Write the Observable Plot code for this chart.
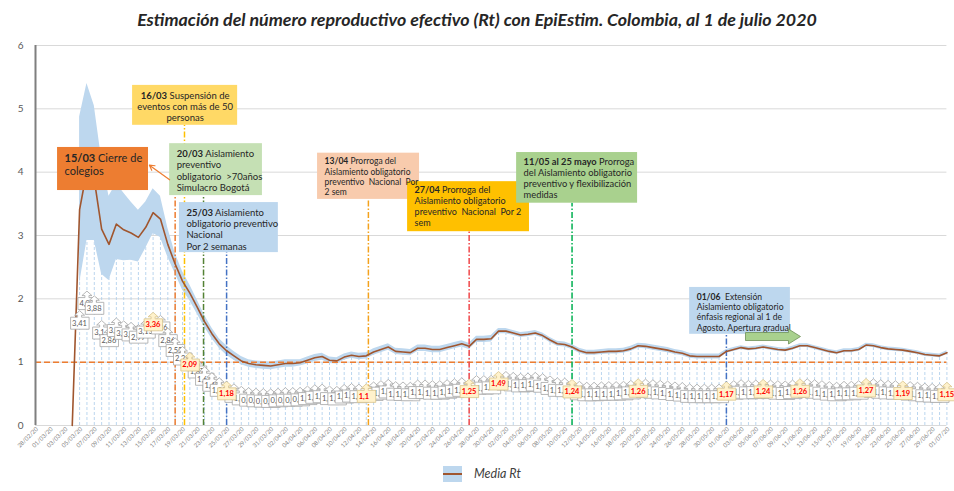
<!DOCTYPE html>
<html><head><meta charset="utf-8">
<script src="https://cdn.jsdelivr.net/npm/d3@7"></script>
<script src="https://cdn.jsdelivr.net/npm/@observablehq/plot@0.6"></script>
<style>
body{margin:0;background:#fff;font-family:Lato,"Noto Sans",sans-serif;}
#wrap{width:954px;height:491px;position:relative;overflow:hidden;background:#fff;}
#title{height:35px;line-height:38px;text-align:center;font-weight:bold;font-style:italic;font-size:17.8px;color:#262626;}
#chart svg{display:block;}
#sw{position:absolute;left:443px;top:466px;width:19px;height:16px;background:#BDD7EE;}
#sw div{position:absolute;left:0;top:7px;width:19px;height:2px;background:#A0562F;}
#lt{position:absolute;left:474px;top:466px;font-style:italic;font-size:12.5px;color:#404040;line-height:16px;}
</style></head>
<body><div id="wrap">
<div id="title">Estimación del número reproductivo efectivo (Rt) con EpiEstim. Colombia, al 1 de julio 2020</div>
<div id="chart"></div>
<div id="sw"><div></div></div><div id="lt">Media Rt</div>
</div>
<script>
// ---------- DATA ----------
const startDate = "2020-03-04"; // first daily value
const rtMean = [
 0,3.41,4.03,3.88,3.10,2.86,3.18,3.09,3.04,2.97,3.13,3.36,3.26,2.86,2.55,2.28,2.09,1.87,1.64,1.45,1.29,1.18,1.10,1.02,0.98,0.96,0.95,0.94,
 0.96,0.98,0.98,0.99,1.03,1.07,1.09,1.03,1.02,1.08,1.11,1.09,1.10,1.16,1.20,1.24,1.17,1.16,1.15,1.22,1.22,1.20,1.20,1.23,1.26,1.29,1.25,1.36,1.36,1.37,
 1.49,1.49,1.46,1.43,1.44,1.46,1.42,1.35,1.29,1.28,1.24,1.18,1.15,1.15,1.16,1.17,1.17,1.18,1.21,1.26,1.25,1.23,1.21,1.19,1.16,1.14,1.10,1.09,1.09,1.09,1.09,
 1.17,1.20,1.23,1.21,1.22,1.24,1.22,1.20,1.19,1.22,1.26,1.26,1.23,1.20,1.17,1.15,1.18,1.18,1.20,1.27,1.26,1.23,1.21,1.20,1.19,1.17,1.15,1.12,1.11,1.10,
 1.15];
const rtLow = [
 null,2.24,2.92,2.92,2.39,2.29,2.62,2.60,2.61,2.58,2.80,3.03,2.97,2.66,2.40,2.14,1.97,1.76,1.55,1.37,1.22,1.11,1.03,0.96,0.92,0.90,0.89,0.88,
 0.90,0.92,0.92,0.94,0.97,1.01,1.03,0.98,0.97,1.03,1.06,1.04,1.05,1.11,1.15,1.19,1.12,1.11,1.10,1.17,1.17,1.15,1.15,1.18,1.21,1.24,1.20,1.31,1.31,1.32,
 1.45,1.45,1.42,1.39,1.40,1.42,1.38,1.31,1.25,1.24,1.20,1.14,1.11,1.11,1.12,1.13,1.13,1.14,1.17,1.22,1.21,1.19,1.17,1.15,1.12,1.10,1.06,1.05,1.05,1.05,1.05,
 1.14,1.17,1.20,1.18,1.19,1.21,1.19,1.17,1.16,1.19,1.23,1.23,1.20,1.17,1.14,1.12,1.15,1.15,1.17,1.24,1.23,1.20,1.18,1.17,1.16,1.14,1.12,1.09,1.08,1.07,
 1.12];
const rtHigh = [
 null,4.87,5.40,5.05,4.20,3.62,3.82,3.67,3.53,3.40,3.53,3.74,3.62,3.12,2.72,2.43,2.22,1.98,1.74,1.54,1.37,1.26,1.17,1.09,1.04,1.02,1.01,1.00,
 1.02,1.04,1.04,1.04,1.08,1.12,1.14,1.08,1.07,1.13,1.16,1.14,1.15,1.21,1.25,1.29,1.22,1.21,1.20,1.27,1.27,1.25,1.25,1.28,1.31,1.34,1.30,1.41,1.41,1.42,
 1.53,1.53,1.50,1.47,1.48,1.50,1.46,1.39,1.33,1.32,1.28,1.22,1.19,1.19,1.20,1.21,1.21,1.22,1.25,1.30,1.29,1.27,1.25,1.23,1.20,1.18,1.14,1.13,1.13,1.13,1.13,
 1.20,1.23,1.26,1.24,1.25,1.27,1.25,1.23,1.22,1.25,1.29,1.29,1.26,1.23,1.20,1.18,1.21,1.21,1.23,1.30,1.29,1.26,1.24,1.23,1.22,1.20,1.18,1.15,1.14,1.13,
 1.18];
const highlightDates = ["2020-03-15","2020-03-20","2020-03-25","2020-04-13","2020-04-27","2020-05-01","2020-05-11","2020-05-20","2020-06-01","2020-06-06","2020-06-11","2020-06-20","2020-06-25","2020-07-01"];
const xTickLabels = ["28/02/20","01/03/20","03/03/20","05/03/20","07/03/20","09/03/20","11/03/20","13/03/20","15/03/20","17/03/20","19/03/20","21/03/20","23/03/20","25/03/20","27/03/20","29/03/20","31/03/20",
 "02/04/20","04/04/20","06/04/20","08/04/20","10/04/20","12/04/20","14/04/20","16/04/20","18/04/20","20/04/20","22/04/20","24/04/20","26/04/20","28/04/20","30/04/20",
 "02/05/20","04/05/20","06/05/20","08/05/20","10/05/20","12/05/20","14/05/20","16/05/20","18/05/20","20/05/20","22/05/20","24/05/20","26/05/20","28/05/20","30/05/20",
 "01/06/20","03/06/20","05/06/20","07/06/20","09/06/20","11/06/20","13/06/20","15/06/20","17/06/20","19/06/20","21/06/20","23/06/20","25/06/20","27/06/20","29/06/20","01/07/20"];
const yTicks = [0,1,2,3,4,5,6];
const xDomain = ["2020-02-28","2020-07-01"];
const threshold = 1;
// event markers (dash-dot verticals), as placed in the reference
const eventDates  = ["2020-03-18","2020-03-19T06:30Z","2020-03-21T20:40Z","2020-03-25","2020-04-13T07:00Z","2020-04-27","2020-05-11","2020-06-01"];
const eventTops   = [3.63,4.74,3.63,2.73,3.57,3.06,3.51,1.44];
const eventColors = ["#ED7D31","#FFC000","#548235","#4472C4","#F4A21C","#F0474A","#00B050","#4472C4"];
// annotation boxes
const notes = [
 {x1:"2020-03-02T00:00Z",x2:"2020-03-14T09:00Z",top:4.39,bottom:3.71,fill:"#ED7D31",bold:"15/03",lines:["15/03 Cierre de","colegios"],size:11,align:"start",dy:5},
 {x1:"2020-03-12T05:00Z",x2:"2020-03-26T12:00Z",top:5.37,bottom:4.74,fill:"#FFD966",bold:"16/03",lines:["16/03 Suspensión de","eventos con más de 50","personas"],size:9.5,align:"middle",dy:5},
 {x1:"2020-03-17T06:00Z",x2:"2020-03-29T21:00Z",top:4.45,bottom:3.63,fill:"#C5E0B4",bold:"20/03",lines:["20/03 Aislamiento","preventivo","obligatorio  >70años","Simulacro Bogotá"],size:9.5,align:"start",dy:5},
 {x1:"2020-03-18T14:00Z",x2:"2020-04-01T01:00Z",top:3.52,bottom:2.73,fill:"#BDD7EE",bold:"25/03",lines:["25/03 Aislamiento","obligatorio preventivo","Nacional","Por 2 semanas"],size:9.5,align:"start",dy:5},
 {x1:"2020-04-06T09:00Z",x2:"2020-04-20T06:00Z",top:4.30,bottom:3.57,fill:"#F8CBAD",bold:"13/04",lines:["13/04 Prorroga del","Aislamiento obligatorio","preventivo  Nacional  Por","2 sem"],size:8.5,align:"start",dy:4},
 {x1:"2020-04-18T15:00Z",x2:"2020-05-05T05:00Z",top:3.85,bottom:3.06,fill:"#FFC000",bold:"27/04",lines:["27/04 Prorroga del","Aislamiento obligatorio","preventivo  Nacional  Por 2","sem"],size:9,align:"start",dy:4},
 {x1:"2020-05-03T11:00Z",x2:"2020-05-19T22:00Z",top:4.31,bottom:3.51,fill:"#A9D18E",bold:"11/05 al 25 mayo",lines:["11/05 al 25 mayo Prorroga","del Aislamiento obligatorio","preventivo y flexibilización","medidas"],size:9.3,align:"start",dy:4.5},
 {x1:"2020-05-27T00:00Z",x2:"2020-06-09T17:00Z",top:2.18,bottom:1.44,fill:"#BDD7EE",bold:"01/06",lines:["01/06  Extensión","Aislamiento obligatorio","énfasis regional al 1 de","Agosto. Apertura gradual"],size:8.6,align:"start",dy:5}
];
const connector = {x1:"2020-03-17T06:00Z",y1:3.88,x2:"2020-03-14T12:00Z",y2:4.11};
const blockArrow = {x:"2020-06-07T06:30Z",y:1.405};

// ---------- BUILD ----------
const start = new Date(startDate + "T00:00Z");
const rows = rtMean.map((v,i)=>({date:d3.utcDay.offset(start,i),mean:v,low:rtLow[i],high:rtHigh[i]}));
const hl = new Set(highlightDates.map(s=>+new Date(s+"T00:00Z")));
const fmt = v => String(Math.round(v*100)/100).replace(".", ",");
const parseTick = s => { const [d,m,y] = s.split("/").map(Number); return new Date(Date.UTC(2000+y, m-1, d)); };
const tickDates = xTickLabels.map(parseTick);
const events = eventDates.map((d,i)=>({date:new Date(d.length===10? d+"T00:00Z": d), top:eventTops[i], color:eventColors[i]}));
const D = s => new Date(s);

const calloutSymbol = {draw(ctx){
  ctx.moveTo(-9,6); ctx.lineTo(-9,-6); ctx.lineTo(-2,-6); ctx.lineTo(-2,-8); ctx.lineTo(-5,-8);
  ctx.lineTo(0,-12.5); ctx.lineTo(5,-8); ctx.lineTo(2,-8); ctx.lineTo(2,-6); ctx.lineTo(9.5,-6);
  ctx.lineTo(9.5,6); ctx.closePath();
}};
const arrowSymbol = {draw(ctx){
  ctx.moveTo(-27,-4); ctx.lineTo(16,-4); ctx.lineTo(16,-7.5); ctx.lineTo(28,0); ctx.lineTo(16,7.5);
  ctx.lineTo(16,4); ctx.lineTo(-27,4); ctx.closePath();
}};

const labelRows = rows.filter(d=>d.mean>0);
const normal = labelRows.filter(d=>!hl.has(+d.date));
const special = labelRows.filter(d=>hl.has(+d.date));
const ly = d => d.mean/2 - 0.09;
const labelMarks = [];
for (const d of normal) {
  labelMarks.push(Plot.dot([d],{x:"date",y:ly,symbol:calloutSymbol,fill:"white",stroke:"#A6A6A6",strokeWidth:0.8}));
  labelMarks.push(Plot.text([d],{x:"date",y:ly,text:d=>fmt(d.mean),textAnchor:"start",dx:-7.5,fontSize:7.5,fill:"#595959"}));
}
for (const d of special) {
  labelMarks.push(Plot.dot([d],{x:"date",y:ly,symbol:calloutSymbol,fill:"#FFF2CC",stroke:"#D9C48A",strokeWidth:0.8}));
  labelMarks.push(Plot.text([d],{x:"date",y:ly,text:d=>fmt(d.mean),textAnchor:"start",dx:-7.5,fontSize:7.5,fontWeight:"bold",fill:"#FF0000"}));
}

const noteMarks = [];
for (const n of notes) {
  noteMarks.push(Plot.rect([n],{x1:d=>D(d.x1),x2:d=>D(d.x2),y1:"bottom",y2:"top",fill:n.fill}));
}
for (const n of notes) {
  const mid = new Date((+D(n.x1) + +D(n.x2))/2);
  noteMarks.push(Plot.text([n],{x: n.align==="middle" ? (()=>mid) : (d=>D(d.x1)), y:"top", text:d=>d.lines.join("\n"),
    textAnchor:n.align, lineAnchor:"top", dx: n.align==="middle"?0:7, dy:n.dy, fontSize:n.size, lineHeight:1.2, fill:"#262626"}));
}

const chart = Plot.plot({
  width: 954, height: 425,
  marginLeft: 35, marginRight: 7.6, marginTop: 10, marginBottom: 35,
  style: {fontFamily: "Lato, 'Noto Sans', sans-serif", fontSize: "10px", color: "#595959", background: "white"},
  x: {type: "utc", domain: xDomain.map(s=>new Date(s+"T00:00Z")), axis: null},
  y: {domain: [0,6], ticks: yTicks, tickSize: 0, tickPadding: 12, label: null, tickFormat: d=>String(d)},
  color: {type: "identity"},
  marks: [
    Plot.ruleY(yTicks.slice(1), {stroke:"#D9D9D9", strokeWidth:1}),
    Plot.ruleY([0], {stroke:"#D9D9D9", strokeWidth:1}),
    Plot.ruleX(labelRows, {x:"date", y1:0, y2:"mean", stroke:"#A9CBEB", strokeWidth:0.8, strokeDasharray:"3,2"}),
    Plot.areaY(rows, {x:"date", y1:"low", y2:"high", fill:"#BDD7EE"}),
    Plot.ruleY([threshold], {stroke:"#ED7D31", strokeWidth:1.5, strokeDasharray:"6,3"}),
    Plot.ruleX(events, {x:"date", y1:0, y2:"top", stroke:"color", strokeWidth:1.5, strokeDasharray:"6,2,1.5,2"}),
    Plot.line(rows, {x:"date", y:"mean", stroke:"#A0562F", strokeWidth:1.6}),
    ...labelMarks,
    ...noteMarks,
    Plot.arrow([connector], {x1:d=>D(d.x1), y1:"y1", x2:d=>D(d.x2), y2:"y2", stroke:"#ED7D31", strokeWidth:1.2, headLength:7, bend:0}),
    Plot.dot([blockArrow], {x:d=>D(d.x), y:"y", symbol:arrowSymbol, fill:"#A9D18E", stroke:"#6E8F57", strokeWidth:0.8}),
    Plot.ruleX([new Date(xDomain[0]+"T00:00Z")], {y1:0, y2:6, stroke:"#7F7F7F", strokeWidth:2}),
    Plot.text(tickDates, {x:d=>d, frameAnchor:"bottom", text:(d,i)=>xTickLabels[i], rotate:-45, textAnchor:"end", dx:3, dy:4, fontSize:6, fill:"#7F7F7F"})
  ]
});
document.getElementById("chart").appendChild(chart);

// bold prefixes in annotation boxes
const ns = "http://www.w3.org/2000/svg";
chart.querySelectorAll("text").forEach(t => {
  const first = t.querySelector("tspan");
  const target = first || t;
  const note = notes.find(n => target.textContent === n.lines[0]);
  if (!note) return;
  const rest = note.lines[0].slice(note.bold.length);
  target.textContent = "";
  const b = document.createElementNS(ns, "tspan");
  b.setAttribute("font-weight", "bold");
  b.textContent = note.bold;
  target.appendChild(b);
  target.appendChild(document.createTextNode(rest));
});
</script>
</body></html>
